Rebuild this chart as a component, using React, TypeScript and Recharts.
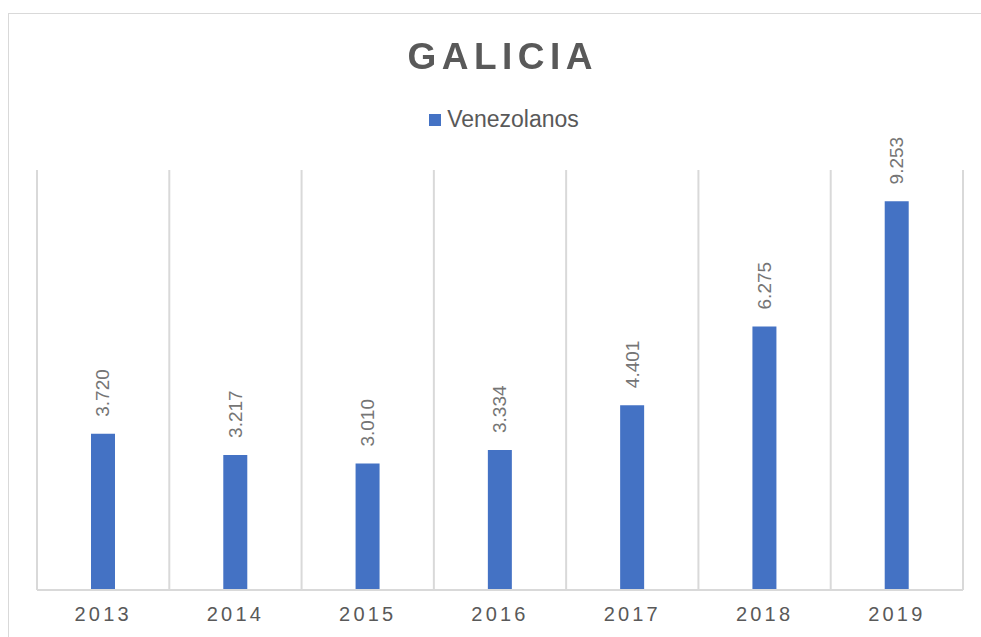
import React from 'react';
import { BarChart, Bar, XAxis, YAxis, CartesianGrid, Legend, LabelList } from 'recharts';

const years = ['2013', '2014', '2015', '2016', '2017', '2018', '2019'];
const venezolanos = [3720, 3217, 3010, 3334, 4401, 6275, 9253];
const seriesName = 'Venezolanos';
const chartTitle = 'GALICIA';
const yDomain = [0, 10000];

const data = years.map((year, i) => ({ year, value: venezolanos[i] }));

const fmt = (v: number) => String(v).replace(/\B(?=(\d{3})+(?!\d))/g, '.');

const FONT = '"Liberation Sans", Arial, Helvetica, sans-serif';
const BAR_COLOR = '#4472C4';
const GRID = '#d9d9d9';

const BarLabel = (props: any) => {
  const { x, y, width, value } = props;
  const cx = Number(x) + Number(width) / 2;
  const ty = Number(y) - 17;
  return (
    <text
      x={cx}
      y={ty}
      transform={`rotate(-90 ${cx} ${ty})`}
      textAnchor="start"
      dominantBaseline="central"
      fill="#757575"
      fontSize={19}
      fontFamily={FONT}
    >
      {fmt(Number(value))}
    </text>
  );
};

const gridGenerator = (args: any) => {
  const n = years.length;
  const xAxis = args?.xAxis;
  const scale = xAxis?.scale;
  if (scale && typeof scale === 'function' && typeof scale.bandwidth === 'function') {
    const starts = years.map((y) => scale(y));
    if (starts.every((s: any) => typeof s === 'number' && !isNaN(s))) {
      return [...starts, starts[starts.length - 1] + scale.bandwidth()];
    }
  }
  const { offset } = args;
  return Array.from({ length: n + 1 }, (_, i) => offset.left + (offset.width * i) / n);
};

const LegendContent = (props: any) => {
  const items = props.payload || [];
  return (
    <div
      style={{
        display: 'flex',
        alignItems: 'center',
        justifyContent: 'center',
        fontFamily: FONT,
        fontSize: 23,
        color: '#595959',
        paddingLeft: 8,
      }}
    >
      {items.map((it: any) => (
        <div key={it.value} style={{ display: 'flex', alignItems: 'center' }}>
          <span style={{ display: 'inline-block', width: 12, height: 12, background: it.color, marginRight: 6 }} />
          <span>{it.value}</span>
        </div>
      ))}
    </div>
  );
};

export default function App() {
  return (
    <div style={{ position: 'fixed', left: 8, top: 13 }}>
      <style>{'html{overflow:hidden}'}</style>
      <div
        style={{
          position: 'relative',
          width: 972,
          height: 623,
          borderTop: `1px solid ${GRID}`,
          borderLeft: `1px solid ${GRID}`,
          background: '#fff',
        }}
      >
        <div
          style={{
            position: 'absolute',
            top: 22,
            left: 0,
            width: 982,
            boxSizing: 'border-box',
            paddingLeft: 5.5,
            textAlign: 'center',
            fontFamily: FONT,
            fontSize: 37,
            fontWeight: 'bold',
            letterSpacing: 5.5,
            color: '#595959',
            lineHeight: 'normal',
            zIndex: 2,
          }}
        >
          {chartTitle}
        </div>
        <BarChart
          width={972}
          height={623}
          data={data}
          margin={{ top: 156, right: 18, bottom: 7, left: 28 }}
        >
          <CartesianGrid
            horizontal={false}
            stroke={GRID}
            strokeWidth={2}
            verticalCoordinatesGenerator={gridGenerator}
          />
          <XAxis
            dataKey="year"
            axisLine={{ stroke: GRID, strokeWidth: 2 }}
            tickLine={false}
            tickSize={0}
            tickMargin={17}
            height={40}
            tick={{ fill: '#595959', fontSize: 20, fontFamily: FONT, letterSpacing: 3.2 }}
            interval={0}
          />
          <YAxis hide domain={yDomain} />
          <Legend
            verticalAlign="middle"
            align="center"
            wrapperStyle={{ top: 92 }}
            content={<LegendContent />}
          />
          <Bar dataKey="value" name={seriesName} fill={BAR_COLOR} barSize={24} isAnimationActive={false}>
            <LabelList dataKey="value" content={<BarLabel />} />
          </Bar>
        </BarChart>
      </div>
    </div>
  );
}
